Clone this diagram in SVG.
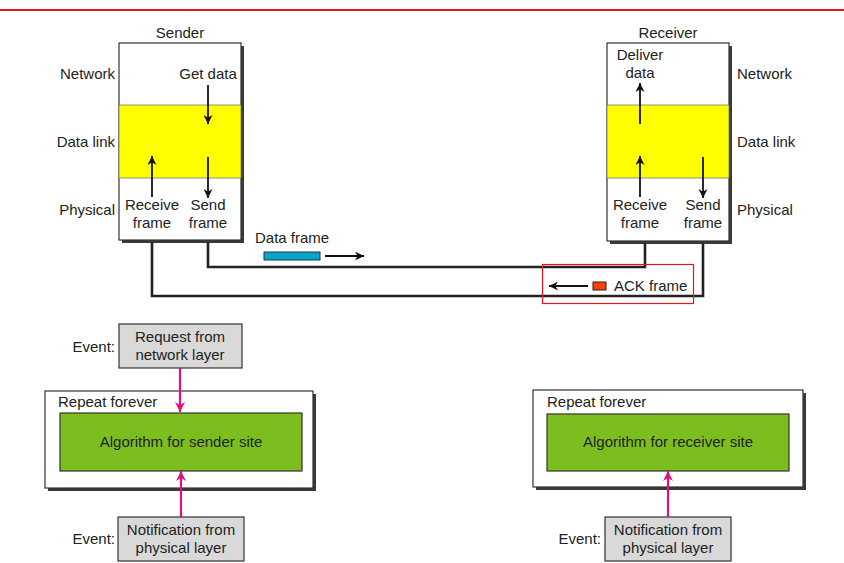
<svg xmlns="http://www.w3.org/2000/svg" width="844" height="563" viewBox="0 0 844 563">
<defs>
<style>
text{font-family:"Liberation Sans",Arial,sans-serif;font-size:15px;fill:#222}
.m{text-anchor:middle}
.e{text-anchor:end}
.box{fill:#fff;stroke:#333;stroke-width:1.2}
.sh{fill:#3a3a3a}
.yl{fill:#ffff00;stroke:#777;stroke-width:0.8}
.ar{stroke:#111;stroke-width:1.8;fill:none}
.wire{stroke:#222;stroke-width:2.6;fill:none}
.gr{fill:#7dbe1f;stroke:#333;stroke-width:1.2}
.ev{fill:#d9d9d9;stroke:#333;stroke-width:1.2}
.pk{stroke:#dd127c;stroke-width:2.2;fill:none}
</style>
<marker id="ah" viewBox="0 0 10 10" refX="10" refY="5" markerWidth="9" markerHeight="9" markerUnits="userSpaceOnUse" orient="auto"><path d="M0,0 L10,5 L0,10 L3,5 z" fill="#111"/></marker>
<marker id="ahp" viewBox="0 0 10 10" refX="10" refY="5" markerWidth="10" markerHeight="10" markerUnits="userSpaceOnUse" orient="auto"><path d="M0,0 L10,5 L0,10 L3,5 z" fill="#dd127c"/></marker>
</defs>
<rect width="844" height="563" fill="#fff"/>
<line x1="0" y1="10" x2="844" y2="10" stroke="#e8141c" stroke-width="2"/>

<g id="sender">
<rect class="sh" x="122" y="46" width="122" height="197"/>
<rect class="box" x="119" y="43" width="122" height="197"/>
<rect class="yl" x="119" y="105" width="122" height="73"/>
<text class="m" x="180" y="38">Sender</text>
<text class="e" x="115" y="79">Network</text>
<text class="e" x="115" y="147">Data link</text>
<text class="e" x="115" y="215">Physical</text>
<text class="m" x="208" y="79">Get data</text>
<text class="m" x="152" y="210">Receive</text>
<text class="m" x="152" y="228">frame</text>
<text class="m" x="208" y="210">Send</text>
<text class="m" x="208" y="228">frame</text>
<line class="ar" x1="208" y1="85" x2="208" y2="124" marker-end="url(#ah)"/>
<line class="ar" x1="152" y1="197" x2="152" y2="156" marker-end="url(#ah)"/>
<line class="ar" x1="208" y1="157" x2="208" y2="198" marker-end="url(#ah)"/>
</g>

<g id="receiver">
<rect class="sh" x="610" y="46" width="122" height="198"/>
<rect class="box" x="607" y="43" width="122" height="198"/>
<rect class="yl" x="607" y="105" width="122" height="73"/>
<text class="m" x="668" y="38">Receiver</text>
<text x="737" y="79">Network</text>
<text x="737" y="147">Data link</text>
<text x="737" y="215">Physical</text>
<text class="m" x="640" y="60">Deliver</text>
<text class="m" x="640" y="78">data</text>
<text class="m" x="640" y="210">Receive</text>
<text class="m" x="640" y="228">frame</text>
<text class="m" x="703" y="210">Send</text>
<text class="m" x="703" y="228">frame</text>
<line class="ar" x1="640" y1="124" x2="640" y2="83" marker-end="url(#ah)"/>
<line class="ar" x1="640" y1="197" x2="640" y2="156" marker-end="url(#ah)"/>
<line class="ar" x1="703" y1="157" x2="703" y2="198" marker-end="url(#ah)"/>
</g>

<g id="event-request">
<rect class="ev" x="119" y="324" width="123" height="44"/>
<text class="m" x="180" y="342">Request from</text>
<text class="m" x="180" y="360">network layer</text>
<text class="e" x="115" y="352">Event:</text>
</g>

<g id="sender-loop">
<rect class="sh" x="48" y="394" width="268" height="97"/>
<rect class="box" x="45" y="391" width="268" height="97"/>
<text x="58" y="407">Repeat forever</text>
<rect class="gr" x="60" y="413" width="242" height="58"/>
<text class="m" x="181" y="447">Algorithm for sender site</text>
</g>

<g id="event-notify-sender">
<rect class="ev" x="118" y="517" width="126" height="44"/>
<text class="m" x="181" y="535">Notification from</text>
<text class="m" x="181" y="553">physical layer</text>
<text class="e" x="115" y="544">Event:</text>
</g>

<g id="receiver-loop">
<rect class="sh" x="536" y="393" width="270" height="97"/>
<rect class="box" x="533" y="390" width="270" height="97"/>
<text x="547" y="407">Repeat forever</text>
<rect class="gr" x="547" y="414" width="242" height="57"/>
<text class="m" x="668" y="447">Algorithm for receiver site</text>
</g>

<g id="event-notify-receiver">
<rect class="ev" x="605" y="517" width="126" height="44"/>
<text class="m" x="668" y="535">Notification from</text>
<text class="m" x="668" y="553">physical layer</text>
<text class="e" x="601" y="544">Event:</text>
</g>

<g id="connectors">
<path class="wire" d="M152,242 V296 H703 V243"/>
<path class="wire" d="M208,242 V267 H645 V243"/>
<text x="255" y="243">Data frame</text>
<rect x="264" y="252" width="56" height="8" fill="#0aa3c9" stroke="#1a3a4a" stroke-width="1"/>
<line class="ar" x1="325" y1="256" x2="364" y2="256" marker-end="url(#ah)"/>
<rect x="542.5" y="264.5" width="151" height="39" fill="none" stroke="#e8141c" stroke-width="1.2"/>
<rect x="593" y="282" width="13" height="8" fill="#f2400f" stroke="#3a1a10" stroke-width="1"/>
<line class="ar" x1="588" y1="286" x2="549" y2="286" marker-end="url(#ah)"/>
<text x="614" y="291">ACK frame</text>
<line class="pk" x1="180" y1="368" x2="180" y2="412" marker-end="url(#ahp)"/>
<line class="pk" x1="181" y1="517" x2="181" y2="471" marker-end="url(#ahp)"/>
<line class="pk" x1="668" y1="517" x2="668" y2="471" marker-end="url(#ahp)"/>
</g>
</svg>
